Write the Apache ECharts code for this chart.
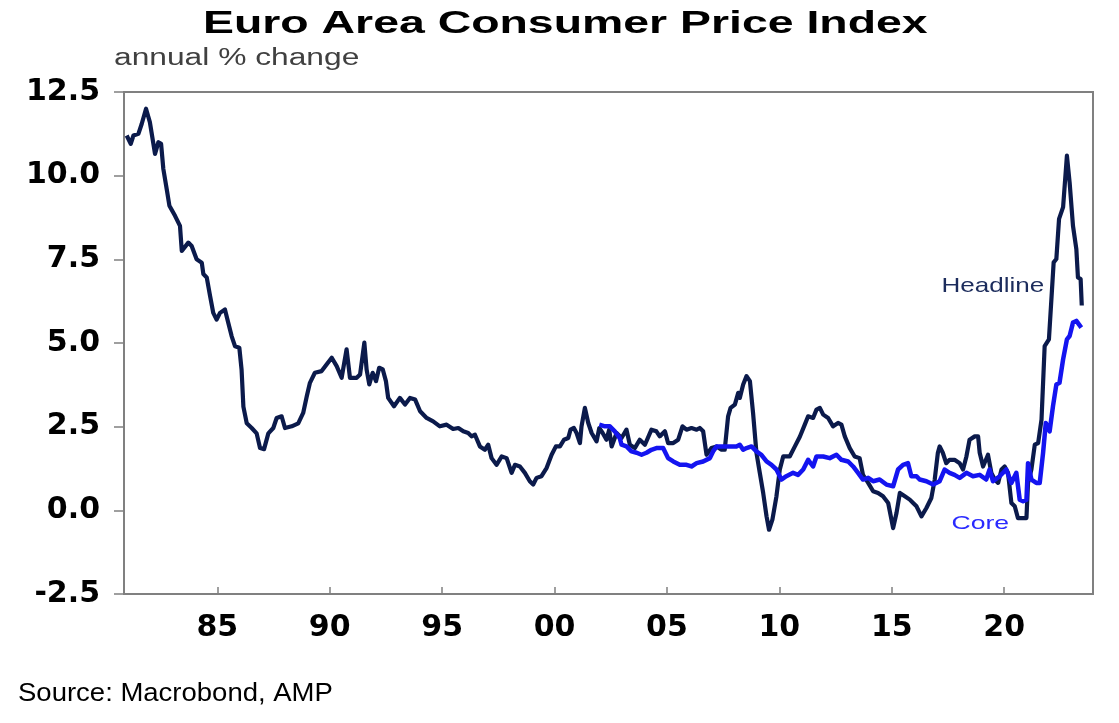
<!DOCTYPE html>
<html>
<head>
<meta charset="utf-8">
<title>Euro Area Consumer Price Index</title>
<script src="https://cdn.jsdelivr.net/npm/echarts@6/dist/echarts.min.js"></script>
<style>
  html, body { margin: 0; padding: 0; background: #fff; }
  #chart { width: 1119px; height: 723px; }
</style>
</head>
<body>
<div id="chart"></div>
<script>
// headline HICP, annual % change (decimal year, value)
var headlineDates = [
  1980.97, 1981.15, 1981.27, 1981.49, 1981.64, 1981.83, 1982.0, 1982.23, 1982.38, 1982.5,
  1982.6, 1982.75, 1982.87, 1983.12, 1983.34, 1983.42, 1983.71, 1983.86, 1984.08, 1984.31,
  1984.38, 1984.53, 1984.68, 1984.82, 1984.97, 1985.12, 1985.34, 1985.49, 1985.64, 1985.79,
  1985.98, 1986.08, 1986.16, 1986.31, 1986.53, 1986.75, 1986.9, 1987.08, 1987.27, 1987.49,
  1987.64, 1987.86, 1988.01, 1988.31, 1988.6, 1988.82, 1988.98, 1989.12, 1989.34, 1989.64,
  1989.86, 1990.09, 1990.31, 1990.53, 1990.75, 1990.9, 1991.2, 1991.35, 1991.54, 1991.64,
  1991.76, 1991.91, 1992.06, 1992.2, 1992.36, 1992.5, 1992.6, 1992.86, 1993.12, 1993.35,
  1993.57, 1993.8, 1994.02, 1994.31, 1994.6, 1994.9, 1995.2, 1995.49, 1995.72, 1995.94,
  1996.16, 1996.31, 1996.46, 1996.68, 1996.9, 1997.05, 1997.2, 1997.42, 1997.65, 1997.87,
  1998.09, 1998.24, 1998.46, 1998.68, 1998.9, 1999.05, 1999.2, 1999.42, 1999.65, 1999.87,
  2000.06, 2000.24, 2000.42, 2000.61, 2000.71, 2000.86, 2000.98, 2001.13, 2001.2, 2001.35,
  2001.5, 2001.65, 2001.87, 2001.99, 2002.14, 2002.31, 2002.43, 2002.54, 2002.76, 2002.98,
  2003.2, 2003.35, 2003.57, 2003.79, 2004.02, 2004.31, 2004.53, 2004.68, 2004.91, 2005.05,
  2005.28, 2005.5, 2005.69, 2005.87, 2006.09, 2006.32, 2006.46, 2006.61, 2006.76, 2006.98,
  2007.21, 2007.43, 2007.57, 2007.72, 2007.83, 2008.02, 2008.17, 2008.24, 2008.39, 2008.54,
  2008.69, 2008.83, 2008.98, 2009.13, 2009.28, 2009.43, 2009.54, 2009.69, 2009.87, 2010.02,
  2010.17, 2010.46, 2010.69, 2010.91, 2011.13, 2011.28, 2011.5, 2011.65, 2011.8, 2011.95,
  2012.17, 2012.39, 2012.61, 2012.76, 2012.91, 2013.13, 2013.35, 2013.57, 2013.72, 2013.95,
  2014.17, 2014.39, 2014.61, 2014.84, 2015.06, 2015.21, 2015.36, 2015.58, 2015.8, 2015.95,
  2016.1, 2016.32, 2016.54, 2016.76, 2016.91, 2017.05, 2017.13, 2017.27, 2017.42, 2017.57,
  2017.79, 2018.02, 2018.17, 2018.32, 2018.46, 2018.69, 2018.84, 2018.91, 2019.06, 2019.28,
  2019.43, 2019.58, 2019.73, 2019.88, 2020.02, 2020.17, 2020.32, 2020.47, 2020.61, 2020.84,
  2020.99, 2021.06, 2021.21, 2021.36, 2021.51, 2021.66, 2021.8, 2021.99, 2022.1, 2022.2,
  2022.32, 2022.44, 2022.62, 2022.79, 2022.91, 2023.06, 2023.21, 2023.28, 2023.4, 2023.45
];
var headlineValues = [
  11.2, 10.95, 11.2, 11.25, 11.55, 12.0, 11.6, 10.65, 11.0, 10.95,
  10.2, 9.6, 9.1, 8.8, 8.5, 7.75, 8.0, 7.9, 7.5, 7.4,
  7.06, 6.96, 6.4, 5.9, 5.7, 5.9, 6.0, 5.6, 5.2, 4.9,
  4.86, 4.2, 3.1, 2.6, 2.46, 2.3, 1.86, 1.83, 2.3, 2.46,
  2.76, 2.81, 2.46, 2.51, 2.6, 2.91, 3.41, 3.81, 4.11, 4.16,
  4.36, 4.56, 4.31, 3.96, 4.81, 3.96, 3.96, 4.06, 5.01, 4.21,
  3.76, 4.11, 3.86, 4.26, 4.21, 3.86, 3.36, 3.11, 3.36, 3.16,
  3.36, 3.31, 2.96, 2.76, 2.66, 2.51, 2.56, 2.43, 2.46, 2.36,
  2.31, 2.21, 2.26, 1.91, 1.81, 1.96, 1.56, 1.36, 1.61, 1.56,
  1.12, 1.36, 1.31, 1.12, 0.87, 0.77, 0.97, 1.02, 1.27, 1.66,
  1.91, 1.91, 2.11, 2.16, 2.41, 2.46, 2.31, 2.01, 2.51, 3.06,
  2.61, 2.31, 2.06, 2.46, 2.31, 2.11, 2.41, 1.91, 2.31, 2.16,
  2.41, 1.96, 1.86, 2.11, 1.96, 2.41, 2.36, 2.21, 2.36, 2.01,
  2.01, 2.11, 2.51, 2.41, 2.46, 2.41, 2.46, 2.36, 1.66, 1.86,
  1.91, 1.81, 1.81, 2.81, 3.06, 3.16, 3.51, 3.36, 3.76, 4.01,
  3.86, 2.91, 1.72, 1.12, 0.52, -0.18, -0.58, -0.28, 0.42, 1.22,
  1.61, 1.61, 1.91, 2.2, 2.56, 2.81, 2.76, 3.01, 3.06, 2.86,
  2.76, 2.51, 2.61, 2.56, 2.21, 1.86, 1.61, 1.56, 1.06, 0.82,
  0.57, 0.52, 0.42, 0.22, -0.53, -0.08, 0.52, 0.42, 0.32, 0.22,
  0.12, -0.18, 0.07, 0.37, 0.92, 1.72, 1.91, 1.72, 1.41, 1.51,
  1.51, 1.41, 1.22, 1.61, 2.11, 2.21, 2.21, 1.72, 1.31, 1.66,
  1.12, 0.92, 0.82, 1.22, 1.31, 1.12, 0.22, 0.12, -0.23, -0.23,
  -0.23, 0.82, 1.22, 1.96, 2.01, 2.71, 4.91, 5.11, 6.31, 7.41,
  7.51, 8.71, 9.06, 10.6, 9.8, 8.5, 7.8, 6.96, 6.91, 6.12
];

// core HICP, annual % change (decimal year, value)
var coreDates = [
  2001.99, 2002.24, 2002.46, 2002.68, 2002.9, 2002.98, 2003.2, 2003.42, 2003.65, 2003.87,
  2004.09, 2004.31, 2004.53, 2004.83, 2005.05, 2005.28, 2005.57, 2005.87, 2006.09, 2006.32,
  2006.61, 2006.91, 2007.05, 2007.21, 2007.5, 2007.8, 2008.09, 2008.24, 2008.39, 2008.54,
  2008.76, 2008.98, 2009.2, 2009.43, 2009.65, 2009.87, 2010.09, 2010.31, 2010.61, 2010.83,
  2011.06, 2011.28, 2011.5, 2011.65, 2011.95, 2012.24, 2012.54, 2012.76, 2013.06, 2013.28,
  2013.5, 2013.72, 2013.95, 2014.17, 2014.46, 2014.76, 2015.06, 2015.28, 2015.5, 2015.72,
  2015.87, 2016.1, 2016.24, 2016.54, 2016.84, 2017.13, 2017.35, 2017.57, 2017.79, 2018.02,
  2018.32, 2018.61, 2018.91, 2019.2, 2019.35, 2019.5, 2019.8, 2020.09, 2020.32, 2020.54,
  2020.69, 2020.84, 2020.99, 2021.06, 2021.21, 2021.43, 2021.58, 2021.73, 2021.85, 2022.02,
  2022.17, 2022.32, 2022.46, 2022.62, 2022.79, 2022.91, 2023.06, 2023.21, 2023.43
];
var coreValues = [
  2.56, 2.51, 2.51, 2.36, 2.16, 1.96, 1.91, 1.76, 1.72, 1.66,
  1.72, 1.81, 1.86, 1.86, 1.56, 1.46, 1.36, 1.36, 1.31, 1.41,
  1.46, 1.56, 1.76, 1.91, 1.91, 1.91, 1.91, 1.96, 1.81, 1.86,
  1.91, 1.76, 1.66, 1.46, 1.36, 1.22, 0.92, 1.02, 1.12, 1.06,
  1.22, 1.51, 1.31, 1.61, 1.61, 1.56, 1.66, 1.51, 1.46, 1.31,
  1.12, 0.92, 0.97, 0.87, 0.92, 0.77, 0.72, 1.22, 1.36, 1.41,
  1.02, 1.02, 0.92, 0.87, 0.77, 0.87, 1.22, 1.12, 1.06, 0.97,
  1.12, 1.02, 1.06, 0.92, 1.22, 0.87, 1.02, 1.22, 0.82, 1.12,
  0.32, 0.27, 0.32, 1.41, 0.92, 0.82, 0.82, 1.72, 2.61, 2.36,
  3.11, 3.76, 3.81, 4.51, 5.11, 5.21, 5.61, 5.66, 5.46
];

var xTickYears = [1985, 1990, 1995, 2000, 2005, 2010, 2015, 2020];
var yTicks = [-2.5, 0, 2.5, 5, 7.5, 10, 12.5];

function pairs(xs, ys) {
  return xs.map(function(x, i) { return [x, ys[i]]; });
}

var chart = echarts.init(document.getElementById('chart'), null, {renderer: 'canvas'});

var frameColor = '#808080';
var labelFont = 'DejaVu Sans';

chart.setOption({
  animation: false,
  backgroundColor: '#ffffff',
  grid: {
    left: 124,
    right: 26,
    top: 92,
    bottom: 129,
    show: true,
    borderColor: frameColor,
    borderWidth: 2,
    containLabel: false
  },
  xAxis: {
    type: 'value',
    min: 1980.85,
    max: 2023.95,
    splitLine: {show: false},
    axisLine: {show: true, onZero: false, lineStyle: {color: frameColor, width: 2}},
    axisTick: {
      show: true,
      inside: true,
      length: 7,
      customValues: xTickYears,
      lineStyle: {color: frameColor, width: 1.5}
    },
    axisLabel: {
      customValues: xTickYears,
      margin: 19,
      color: '#000',
      fontFamily: labelFont,
      fontWeight: 'bold',
      fontSize: 30,
      formatter: function(v) {
        var s = String(Math.round(v) % 100);
        return s.length < 2 ? '0' + s : s;
      }
    }
  },
  yAxis: {
    type: 'value',
    min: yTicks[0],
    max: yTicks[yTicks.length - 1],
    interval: 2.5,
    splitLine: {show: false},
    axisLine: {show: true, onZero: false, lineStyle: {color: frameColor, width: 2}},
    axisTick: {show: true, inside: false, length: 10, lineStyle: {color: frameColor, width: 1.5}},
    axisLabel: {
      margin: 24,
      color: '#000',
      fontFamily: labelFont,
      fontWeight: 'bold',
      fontSize: 30,
      formatter: function(v) { return v.toFixed(1); }
    }
  },
  series: [
    {
      name: 'Headline',
      type: 'line',
      data: pairs(headlineDates, headlineValues),
      showSymbol: false,
      symbol: 'none',
      lineStyle: {color: '#0b1a4b', width: 4.2, join: 'round'},
      z: 2
    },
    {
      name: 'Core',
      type: 'line',
      data: pairs(coreDates, coreValues),
      showSymbol: false,
      symbol: 'none',
      lineStyle: {color: '#1414f0', width: 4.5, join: 'round'},
      z: 3
    }
  ],
  graphic: [
    {
      type: 'text', x: 203, y: 24.5, scaleX: 1.45,
      style: {
        text: 'Euro Area Consumer Price Index',
        font: 'bold 32px "Liberation Sans", Arial, sans-serif',
        fill: '#000',
        align: 'left', verticalAlign: 'middle',
        textAlign: 'left', textVerticalAlign: 'middle'
      }
    },
    {
      type: 'text', x: 114, y: 58.5, scaleX: 1.38,
      style: {
        text: 'annual % change',
        font: '23px "Liberation Sans", Arial, sans-serif',
        fill: '#404040',
        align: 'left', verticalAlign: 'middle',
        textAlign: 'left', textVerticalAlign: 'middle'
      }
    },
    {
      type: 'text', x: 941.5, y: 286, scaleX: 1.24,
      style: {
        text: 'Headline',
        font: '21px "Liberation Sans", Arial, sans-serif',
        fill: '#1c2c5c',
        align: 'left', verticalAlign: 'middle',
        textAlign: 'left', textVerticalAlign: 'middle'
      }
    },
    {
      type: 'text', x: 951.5, y: 523.5, scaleX: 1.4,
      style: {
        text: 'Core',
        font: '19px "Liberation Sans", Arial, sans-serif',
        fill: '#2a2aff',
        align: 'left', verticalAlign: 'middle',
        textAlign: 'left', textVerticalAlign: 'middle'
      }
    },
    {
      type: 'text', x: 18, y: 694, scaleX: 1.1,
      style: {
        text: 'Source: Macrobond, AMP',
        font: '25px "Liberation Sans", Arial, sans-serif',
        fill: '#000',
        align: 'left', verticalAlign: 'middle',
        textAlign: 'left', textVerticalAlign: 'middle'
      }
    }
  ]
});
</script>
</body>
</html>
